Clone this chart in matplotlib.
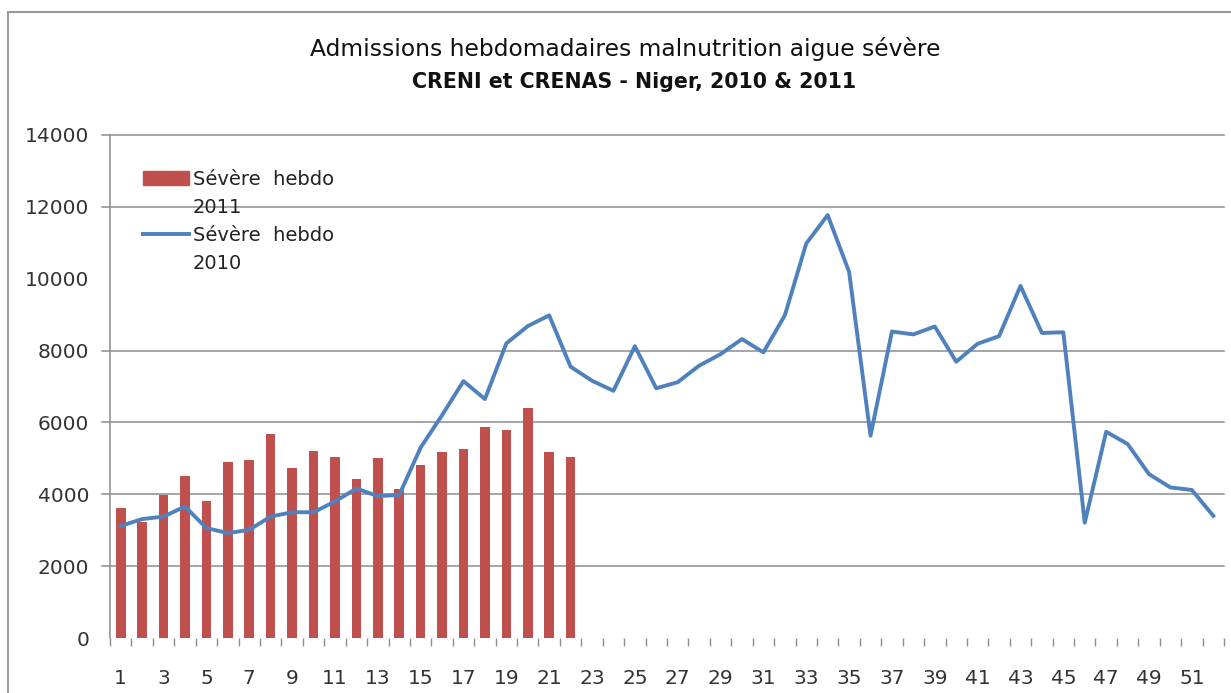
import matplotlib
matplotlib.use("Agg")
import matplotlib.pyplot as plt
from matplotlib.patches import Patch, Rectangle
from matplotlib.lines import Line2D

# Semaines
weeks_2010 = list(range(1, 53))
weeks_2011 = list(range(1, 23))

# Admissions hebdomadaires MAS 2010 (courbe)
severe_2010 = [
    3120, 3310, 3380, 3660, 3060, 2920, 3010, 3380, 3500, 3500,
    3800, 4160, 3950, 3980, 5300, 6200, 7150, 6650, 8200, 8680,
    8980, 7550, 7160, 6880, 8120, 6950, 7120, 7580, 7900, 8320,
    7950, 8980, 10980, 11770, 10190, 5630, 8530, 8450, 8670, 7690,
    8190, 8400, 9800, 8490, 8510, 3210, 5740, 5400, 4560, 4190,
    4120, 3400,
]

# Admissions hebdomadaires MAS 2011 (barres)
severe_2011 = [
    3610, 3215, 3980, 4500, 3800, 4905, 4950, 5665, 4720, 5210,
    5035, 4415, 5000, 4150, 4815, 5175, 5255, 5875, 5790, 6410,
    5175, 5035,
]

y_ticks = [0, 2000, 4000, 6000, 8000, 10000, 12000, 14000]
grid_lines = [2000, 4000, 6000, 8000, 12000, 14000]
x_labels = list(range(1, 53, 2))

RED = "#C0504D"
BLUE = "#4F81BD"
GRID = "#8C8C8C"
TXT = "#333333"

W, H = 1231, 693
fig = plt.figure(figsize=(W / 100, H / 100), dpi=100)
ax = fig.add_axes([110 / W, 1 - 638 / H, (1224 - 110) / W, (638 - 135) / H])

# cadre du graphique
fig.patches.append(Rectangle((8 / W, -0.1), 1.2, 1 - 12 / H + 0.1,
                             transform=fig.transFigure, fill=False,
                             edgecolor="#9A9A9A", linewidth=1.5))

for v in grid_lines:
    ax.axhline(v, xmin=-0.007, xmax=1, color=GRID, linewidth=1.1,
               clip_on=False, zorder=0)

bars = ax.bar(weeks_2011, severe_2011, width=0.45, color=RED, zorder=2)
line, = ax.plot(weeks_2010, severe_2010, color=BLUE, linewidth=2.8, zorder=3)

ax.set_xlim(0.5, 52.5)
ax.set_ylim(0, 14000)

ax.set_yticks(y_ticks)
ax.set_yticklabels([str(v) for v in y_ticks])
ax.tick_params(axis="y", length=0, pad=15, labelsize=14.5, labelcolor=TXT)

ax.set_xticks(x_labels)
ax.set_xticklabels([str(v) for v in x_labels])
ax.set_xticks([k + 0.5 for k in range(0, 53)], minor=True)
ax.tick_params(axis="x", which="major", length=0, pad=22, labelsize=14.5,
               labelcolor=TXT)
ax.tick_params(axis="x", which="minor", length=6, width=1, color=GRID,
               direction="out")

for s in ["top", "right", "bottom"]:
    ax.spines[s].set_visible(False)
ax.spines["left"].set_color(GRID)
ax.spines["left"].set_linewidth(1.1)

# légende
blank = Patch(visible=False)
handles = [Patch(color=RED), blank, Line2D([], [], color=BLUE, linewidth=2.8), blank]
labels = ["Sévère  hebdo", "2011", "Sévère  hebdo", "2010"]
fig.legend(handles, labels, loc="upper left",
           bbox_to_anchor=(143 / W, 1 - 170 / H), frameon=False,
           fontsize=14, handlelength=2.35, handleheight=0.72,
           handletextpad=0.2, labelspacing=0.47, borderpad=0,
           borderaxespad=0, labelcolor="#222222")

fig.text(0.508, 1 - 49 / H, "Admissions hebdomadaires malnutrition aigue sévère",
         ha="center", va="center", fontsize=16.8, color="#111111")
fig.text(0.515, 1 - 82 / H, "CRENI et CRENAS - Niger, 2010 & 2011",
         ha="center", va="center", fontsize=14.8, fontweight="bold",
         color="#111111")

fig.savefig("out.png", dpi=100)
